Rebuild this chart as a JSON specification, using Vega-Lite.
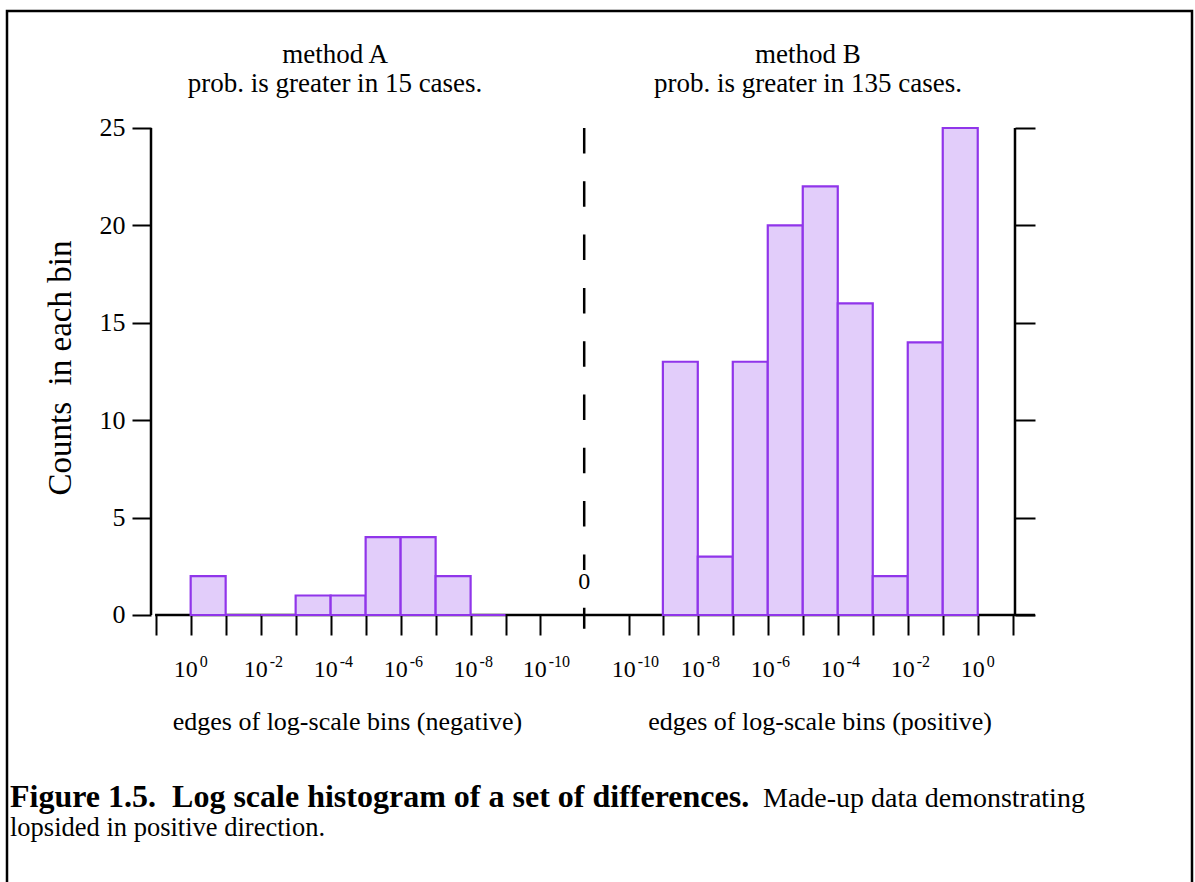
{
  "$schema": "https://vega.github.io/schema/vega-lite/v6.json",
  "width": 1185,
  "height": 879,
  "autosize": {"type": "none"},
  "padding": {"left": 7, "top": 11, "right": 3, "bottom": 0},
  "background": "white",
  "data": {"values": [{}]},
  "config": {
    "view": {"stroke": "black", "strokeWidth": 2.5, "fill": "white"},
    "font": "Liberation Serif",
    "axis": {
      "domain": false,
      "grid": false,
      "labelFont": "Liberation Serif",
      "titleFont": "Liberation Serif",
      "labelColor": "black",
      "titleColor": "black",
      "tickColor": "black",
      "tickWidth": 2
    },
    "text": {"font": "Liberation Serif", "color": "black"}
  },
  "datasets": {
    "bins": [
      {"side": "negative", "lo": -1, "hi": -0.1, "count": 2},
      {"side": "negative", "lo": -0.1, "hi": -0.01, "count": 0},
      {"side": "negative", "lo": -0.01, "hi": -0.001, "count": 0},
      {"side": "negative", "lo": -0.001, "hi": -0.0001, "count": 1},
      {"side": "negative", "lo": -0.0001, "hi": -0.00001, "count": 1},
      {"side": "negative", "lo": -0.00001, "hi": -0.000001, "count": 4},
      {"side": "negative", "lo": -0.000001, "hi": -1e-7, "count": 4},
      {"side": "negative", "lo": -1e-7, "hi": -1e-8, "count": 2},
      {"side": "negative", "lo": -1e-8, "hi": -1e-9, "count": 0},
      {"side": "positive", "lo": 1e-9, "hi": 1e-8, "count": 13},
      {"side": "positive", "lo": 1e-8, "hi": 1e-7, "count": 3},
      {"side": "positive", "lo": 1e-7, "hi": 0.000001, "count": 13},
      {"side": "positive", "lo": 0.000001, "hi": 0.00001, "count": 20},
      {"side": "positive", "lo": 0.00001, "hi": 0.0001, "count": 22},
      {"side": "positive", "lo": 0.0001, "hi": 0.001, "count": 16},
      {"side": "positive", "lo": 0.001, "hi": 0.01, "count": 2},
      {"side": "positive", "lo": 0.01, "hi": 0.1, "count": 14},
      {"side": "positive", "lo": 0.1, "hi": 1, "count": 25}
    ],
    "ticklabels": [
      {"v": -1, "exp": "0"},
      {"v": -0.01, "exp": "-2"},
      {"v": -0.0001, "exp": "-4"},
      {"v": -0.000001, "exp": "-6"},
      {"v": -1e-8, "exp": "-8"},
      {"v": -1e-10, "exp": "-10"},
      {"v": 1e-10, "exp": "-10"},
      {"v": 1e-8, "exp": "-8"},
      {"v": 0.000001, "exp": "-6"},
      {"v": 0.0001, "exp": "-4"},
      {"v": 0.01, "exp": "-2"},
      {"v": 1, "exp": "0"}
    ]
  },
  "layer": [
    {
      "mark": {"type": "rule", "color": "black", "strokeWidth": 2.5},
      "encoding": {
        "y": {"datum": 0, "axis": null},
        "x": {"datum": -10.4, "axis": null},
        "x2": {"datum": 43.3}
      }
    },
    {
      "data": {"name": "bins"},
      "mark": {"type": "rect", "fill": "#e2cdfa", "stroke": "#9035ea", "strokeWidth": 2.2},
      "encoding": {
        "x": {
          "field": "lo",
          "type": "quantitative",
          "scale": {"type": "symlog", "constant": 5.68e-12, "domain": [-177170, 1326100], "nice": false, "zero": false},
          "axis": {
            "orient": "bottom",
            "offset": -275,
            "values": [-10, -1, -0.1, -0.01, -0.001, -0.0001, -0.00001, -0.000001, -1e-7, -1e-8, -1e-9, -1e-10, 1e-10, 1e-9, 1e-8, 1e-7, 0.000001, 0.00001, 0.0001, 0.001, 0.01, 0.1, 1, 10],
            "tickSize": 20,
            "labels": false,
            "title": null
          }
        },
        "x2": {"field": "hi"},
        "y": {
          "field": "count",
          "type": "quantitative",
          "scale": {"domain": [-14.117, 31.006], "nice": false, "zero": false},
          "axis": {
            "orient": "left",
            "offset": -144,
            "values": [0, 5, 10, 15, 20, 25],
            "tickSize": 19,
            "labelFontSize": 26,
            "labelPadding": 7,
            "title": "Counts\u00a0 in each bin",
            "titleFontSize": 33,
            "titleFontWeight": "normal",
            "titleAngle": -90,
            "titleX": -81,
            "titleY": 356.5,
            "titleBaseline": "alphabetic"
          }
        },
        "y2": {"datum": 0}
      }
    },
    {
      "mark": {"type": "rule", "color": "black", "strokeWidth": 2.5},
      "encoding": {
        "x": {"datum": -13.6, "axis": null},
        "y": {"datum": 0, "axis": null},
        "y2": {"datum": 25}
      }
    },
    {
      "mark": {"type": "rule", "color": "black", "strokeWidth": 2.5},
      "encoding": {
        "x": {"datum": 11.6, "axis": null},
        "y": {
          "datum": 0,
          "axis": {
            "orient": "right",
            "offset": -177,
            "values": [0, 5, 10, 15, 20, 25],
            "tickSize": 20,
            "labels": false,
            "title": null
          }
        },
        "y2": {"datum": 25}
      }
    },
    {
      "mark": {"type": "rule", "color": "black", "strokeWidth": 2.5, "strokeDash": [25.5, 27.8]},
      "encoding": {
        "x": {"datum": 0, "axis": null},
        "y": {"datum": 25, "axis": null},
        "y2": {"datum": -0.7}
      }
    },
    {
      "mark": {"type": "text", "text": "0", "fontSize": 24, "align": "center", "baseline": "alphabetic", "dy": -26, "fill": "white", "stroke": "white", "strokeWidth": 8},
      "encoding": {
        "x": {"datum": 0, "axis": null},
        "y": {"datum": 0, "axis": null}
      }
    },
    {
      "mark": {"type": "text", "text": "0", "fontSize": 24, "align": "center", "baseline": "alphabetic", "dy": -26},
      "encoding": {
        "x": {"datum": 0, "axis": null},
        "y": {"datum": 0, "axis": null}
      }
    },
    {
      "data": {"name": "ticklabels"},
      "mark": {"type": "text", "text": "10", "fontSize": 24, "align": "right", "baseline": "alphabetic", "dx": 7, "dy": 62},
      "encoding": {
        "x": {"field": "v", "type": "quantitative", "axis": null},
        "y": {"datum": 0, "axis": null}
      }
    },
    {
      "data": {"name": "ticklabels"},
      "mark": {"type": "text", "fontSize": 16, "align": "left", "baseline": "alphabetic", "dx": 9, "dy": 52},
      "encoding": {
        "x": {"field": "v", "type": "quantitative", "axis": null},
        "y": {"datum": 0, "axis": null},
        "text": {"field": "exp"}
      }
    },
    {
      "mark": {"type": "text", "text": ["method A", "prob. is greater in 15 cases."], "fontSize": 27, "lineHeight": 29, "align": "center", "baseline": "alphabetic", "dy": -65},
      "encoding": {
        "x": {"datum": -0.000075, "axis": null},
        "y": {"datum": 25, "axis": null}
      }
    },
    {
      "mark": {"type": "text", "text": ["method B", "prob. is greater in 135 cases."], "fontSize": 27, "lineHeight": 29, "align": "center", "baseline": "alphabetic", "dy": -65},
      "encoding": {
        "x": {"datum": 0.0000141, "axis": null},
        "y": {"datum": 25, "axis": null}
      }
    },
    {
      "mark": {"type": "text", "text": "edges of log-scale bins (negative)", "fontSize": 26, "align": "center", "baseline": "alphabetic", "dy": 115},
      "encoding": {
        "x": {"datum": -0.000033, "axis": null},
        "y": {"datum": 0, "axis": null}
      }
    },
    {
      "mark": {"type": "text", "text": "edges of log-scale bins (positive)", "fontSize": 26, "align": "center", "baseline": "alphabetic", "dy": 115},
      "encoding": {
        "x": {"datum": 0.00003107, "axis": null},
        "y": {"datum": 0, "axis": null}
      }
    },
    {
      "mark": {"type": "text", "text": "Figure 1.5.\u00a0 Log scale histogram of a set of differences.", "fontSize": 32, "fontWeight": "bold", "align": "left", "baseline": "alphabetic", "dy": 192},
      "encoding": {
        "x": {"datum": -145330, "axis": null},
        "y": {"datum": 0, "axis": null}
      }
    },
    {
      "mark": {"type": "text", "text": "Made-up data demonstrating", "fontSize": 28, "align": "left", "baseline": "alphabetic", "dy": 192},
      "encoding": {
        "x": {"datum": 7.3e-7, "axis": null},
        "y": {"datum": 0, "axis": null}
      }
    },
    {
      "mark": {"type": "text", "text": "lopsided in positive direction.", "fontSize": 26.5, "align": "left", "baseline": "alphabetic", "dy": 221},
      "encoding": {
        "x": {"datum": -145330, "axis": null},
        "y": {"datum": 0, "axis": null}
      }
    }
  ],
  "resolve": {"axis": {"x": "independent", "y": "independent"}}
}
